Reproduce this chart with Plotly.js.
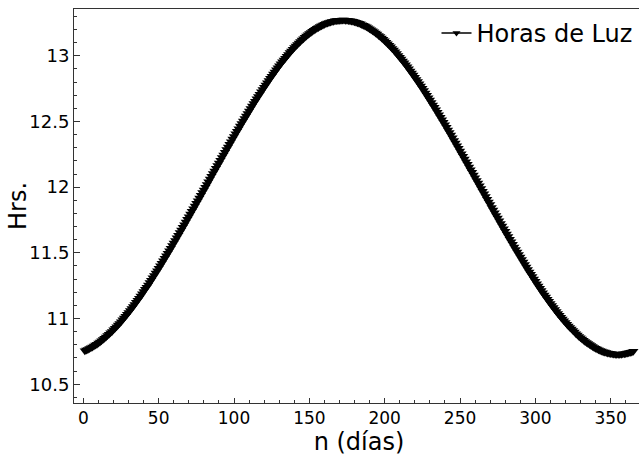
<!DOCTYPE html>
<html>
<head>
<meta charset="utf-8">
<script src="https://cdn.plot.ly/plotly-3.0.1.min.js"></script>
<style>
html, body { margin: 0; padding: 0; overflow: hidden; background: #fff; }
#chart { width: 660px; height: 456px; }
</style>
</head>
<body>
<div id="chart"></div>
<script>
const seriesName = "Horas de Luz";
const xTitle = "n (días)";
const yTitle = "Hrs.";
const dayCount = 365;
const days = Array.from({length: dayCount}, (_, i) => i + 1);
const hours = [
10.755, 10.760, 10.765, 10.771, 10.777, 10.784, 10.790, 10.798, 10.805, 10.813,
10.822, 10.831, 10.840, 10.849, 10.859, 10.870, 10.880, 10.891, 10.902, 10.914,
10.926, 10.938, 10.950, 10.963, 10.976, 10.990, 11.004, 11.018, 11.032, 11.046,
11.061, 11.076, 11.091, 11.107, 11.123, 11.139, 11.155, 11.171, 11.188, 11.205,
11.222, 11.239, 11.256, 11.274, 11.292, 11.310, 11.328, 11.346, 11.364, 11.383,
11.402, 11.420, 11.439, 11.458, 11.477, 11.497, 11.516, 11.535, 11.555, 11.575,
11.594, 11.614, 11.634, 11.654, 11.674, 11.694, 11.714, 11.734, 11.755, 11.775,
11.795, 11.816, 11.836, 11.856, 11.877, 11.897, 11.918, 11.938, 11.959, 11.979,
12.000, 12.021, 12.041, 12.062, 12.082, 12.103, 12.123, 12.144, 12.164, 12.184,
12.205, 12.225, 12.245, 12.266, 12.286, 12.306, 12.326, 12.346, 12.366, 12.386,
12.406, 12.425, 12.445, 12.465, 12.484, 12.503, 12.523, 12.542, 12.561, 12.580,
12.598, 12.617, 12.636, 12.654, 12.672, 12.690, 12.708, 12.726, 12.744, 12.761,
12.778, 12.795, 12.812, 12.829, 12.845, 12.861, 12.877, 12.893, 12.909, 12.924,
12.939, 12.954, 12.968, 12.982, 12.996, 13.010, 13.024, 13.037, 13.050, 13.062,
13.074, 13.086, 13.098, 13.109, 13.120, 13.130, 13.141, 13.151, 13.160, 13.169,
13.178, 13.187, 13.195, 13.202, 13.209, 13.216, 13.223, 13.229, 13.235, 13.240,
13.245, 13.249, 13.254, 13.257, 13.261, 13.263, 13.266, 13.268, 13.269, 13.271,
13.271, 13.272, 13.272, 13.271, 13.270, 13.269, 13.267, 13.265, 13.262, 13.259,
13.255, 13.252, 13.247, 13.243, 13.237, 13.232, 13.226, 13.220, 13.213, 13.206,
13.198, 13.191, 13.182, 13.174, 13.165, 13.155, 13.146, 13.136, 13.125, 13.114,
13.103, 13.092, 13.080, 13.068, 13.056, 13.043, 13.030, 13.017, 13.003, 12.989,
12.975, 12.961, 12.946, 12.931, 12.916, 12.901, 12.885, 12.869, 12.853, 12.837,
12.820, 12.804, 12.787, 12.770, 12.752, 12.735, 12.717, 12.699, 12.681, 12.663,
12.645, 12.626, 12.608, 12.589, 12.570, 12.551, 12.532, 12.513, 12.494, 12.474,
12.455, 12.435, 12.416, 12.396, 12.376, 12.356, 12.336, 12.316, 12.296, 12.276,
12.255, 12.235, 12.215, 12.194, 12.174, 12.154, 12.133, 12.113, 12.092, 12.072,
12.051, 12.031, 12.010, 11.990, 11.969, 11.949, 11.928, 11.908, 11.887, 11.867,
11.846, 11.826, 11.805, 11.785, 11.765, 11.745, 11.724, 11.704, 11.684, 11.664,
11.644, 11.624, 11.604, 11.585, 11.565, 11.545, 11.526, 11.506, 11.487, 11.468,
11.449, 11.430, 11.411, 11.392, 11.374, 11.355, 11.337, 11.319, 11.301, 11.283,
11.265, 11.248, 11.230, 11.213, 11.196, 11.180, 11.163, 11.147, 11.131, 11.115,
11.099, 11.084, 11.069, 11.054, 11.039, 11.025, 11.010, 10.997, 10.983, 10.970,
10.957, 10.944, 10.932, 10.920, 10.908, 10.897, 10.885, 10.875, 10.864, 10.854,
10.845, 10.835, 10.826, 10.818, 10.809, 10.802, 10.794, 10.787, 10.780, 10.774,
10.768, 10.763, 10.757, 10.753, 10.748, 10.745, 10.741, 10.738, 10.735, 10.733,
10.731, 10.730, 10.729, 10.728, 10.728, 10.729, 10.729, 10.731, 10.732, 10.734,
10.737, 10.739, 10.743, 10.746, 10.751
];

const axisColor = '#333333';
const trace = {
  x: days,
  y: hours,
  type: 'scatter',
  mode: 'lines+markers',
  name: seriesName,
  showlegend: false,
  line: {color: '#000000', width: 1.5},
  marker: {symbol: 'triangle-down', size: 9, color: '#000000', line: {width: 0}}
};
// legend entry only (no data drawn): same style with a smaller marker, as in the reference legend
const legendEntry = {
  x: [null], y: [null],
  type: 'scatter',
  mode: 'lines+markers',
  name: seriesName,
  showlegend: true,
  line: {color: '#000000', width: 1.5},
  marker: {symbol: 'triangle-down', size: 7, color: '#000000', line: {width: 0}}
};

const layout = {
  width: 660,
  height: 456,
  margin: {l: 74, r: 16, t: 9, b: 53, pad: 0},
  paper_bgcolor: '#ffffff',
  plot_bgcolor: '#ffffff',
  showlegend: true,
  legend: {
    x: 0.9886, y: 0.995, xanchor: 'right', yanchor: 'top',
    bgcolor: 'rgba(0,0,0,0)', borderwidth: 0,
    font: {family: 'DejaVu Sans', size: 24, color: '#000'},
    itemwidth: 30
  },
  xaxis: {
    range: [-6.2, 372.1],
    tick0: 0, dtick: 50,
    ticks: 'inside', ticklen: 5, tickwidth: 1, tickcolor: axisColor,
    minor: {ticks: 'inside', dtick: 10, ticklen: 3, tickwidth: 1, tickcolor: axisColor},
    showline: true, linecolor: axisColor, linewidth: 1, mirror: true,
    showgrid: false, zeroline: false,
    tickfont: {family: 'DejaVu Sans', size: 17, color: '#000'},
    title: {text: xTitle, font: {family: 'DejaVu Sans', size: 24, color: '#000'}, standoff: 5}
  },
  yaxis: {
    range: [10.357, 13.356],
    tick0: 10.5, dtick: 0.5,
    ticks: 'inside', ticklen: 6, tickwidth: 1, tickcolor: axisColor,
    minor: {ticks: 'inside', dtick: 0.1, ticklen: 3, tickwidth: 1, tickcolor: axisColor},
    showline: true, linecolor: axisColor, linewidth: 1, mirror: true,
    showgrid: false, zeroline: false,
    tickfont: {family: 'DejaVu Sans', size: 18, color: '#000'}
  },
  annotations: [{
    text: yTitle,
    xref: 'paper', yref: 'paper',
    x: -0.0982, y: 0.5,
    xanchor: 'center', yanchor: 'middle',
    textangle: -90,
    showarrow: false,
    font: {family: 'DejaVu Sans', size: 24, color: '#000'}
  }]
};

Plotly.newPlot('chart', [trace, legendEntry], layout, {displayModeBar: false, staticPlot: true});
</script>
</body>
</html>
